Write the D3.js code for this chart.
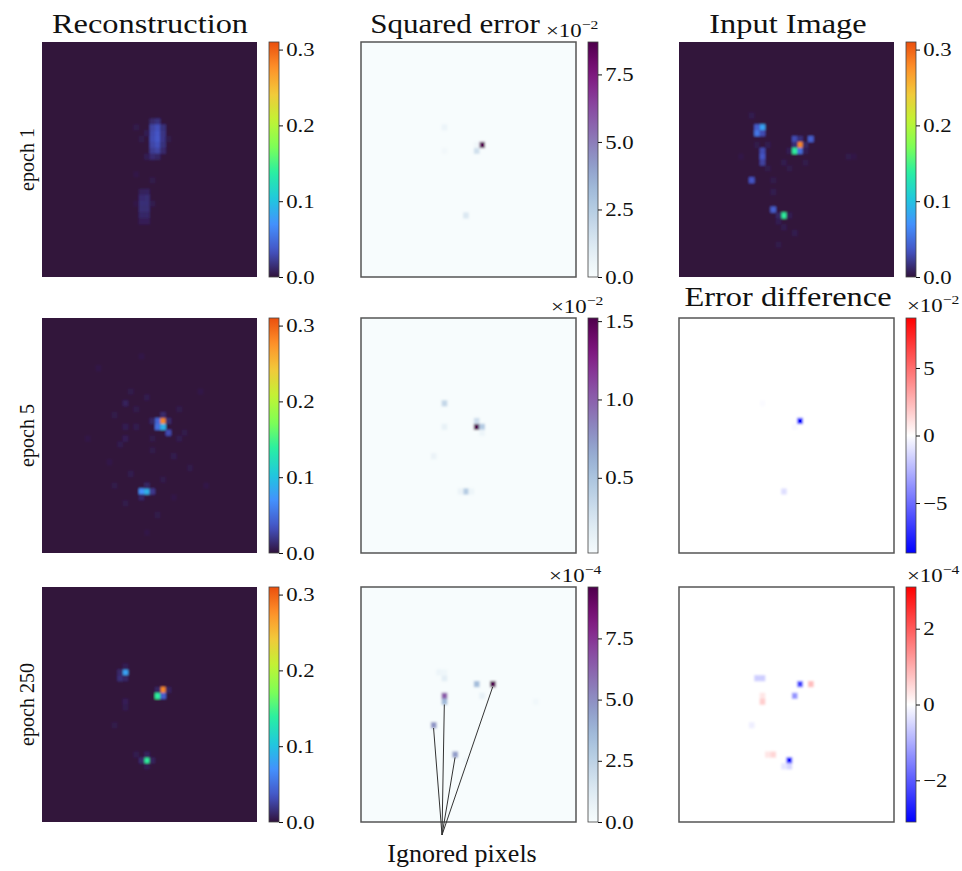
<!DOCTYPE html>
<html>
<head>
<meta charset="utf-8">
<script src="https://cdn.jsdelivr.net/npm/d3@7"></script>
<style>
  body { margin: 0; background: #fff; }
  svg { display: block; font-family: "Liberation Serif", "Times New Roman", serif; }
</style>
</head>
<body>
<svg id="chart" width="962" height="871"></svg>
<script>
const gridSize = 40;
const rowLabels = ["epoch 1", "epoch 5", "epoch 250"];
const columnTitles = ["Reconstruction", "Squared error", "Input Image"];
const diffTitle = "Error difference";
const annotationText = "Ignored pixels";

// turbo panels (reconstruction + input)
const intensityMax = 0.31;
const intensityTicks = [0, 0.1, 0.2, 0.3];

// squared error, values in units of 10^exp
const sqErrRange = [[0, 8.7], [0.02, 1.52], [0, 9.6]];
const sqErrTicks = [[0, 2.5, 5, 7.5], [0.5, 1.0, 1.5], [0, 2.5, 5, 7.5]];
const sqErrExp = ["−2", "−2", "−4"];

// error difference (epoch 5 and epoch 250)
const diffMax = [8.7, 3.1];
const diffTicks = [[-5, 0, 5], [-2, 0, 2]];
const diffExp = ["−2", "−4"];

// pixels: [col, row, value], everything else is 0
const inputImage = [
  [15, 14, 0.08], [14, 14, 0.04], [14, 15, 0.055], [15, 15, 0.03], [13, 12, 0.005],
  [21, 16, 0.03], [22, 16, 0.015], [24, 16, 0.04],
  [22, 17, 0.28], [21, 17, 0.015], [23, 17, 0.01],
  [21, 18, 0.14], [22, 18, 0.05], [20, 18, 0.006], [23, 18, 0.006],
  [15, 18, 0.03], [15, 19, 0.035], [15, 20, 0.025],
  [13, 23, 0.035], [17, 25, 0.005], [17, 28, 0.04],
  [19, 29, 0.14], [18, 29, 0.01], [20, 29, 0.006],
  [21, 32, 0.005], [18, 34, 0.004], [31, 19, 0.004], [32, 19, 0.003],
  [11, 19, 0.003], [16, 21, 0.004], [19, 20, 0.005], [20, 21, 0.004], [23, 20, 0.004],
  [18, 30, 0.006], [19, 31, 0.005], [17, 23, 0.004], [14, 17, 0.004], [16, 17, 0.005]
];

const reconEpoch1 = [
  [20, 13, 0.012], [21, 13, 0.016],
  [20, 14, 0.026], [21, 14, 0.032], [22, 14, 0.016],
  [20, 15, 0.029], [21, 15, 0.035], [22, 15, 0.018],
  [20, 16, 0.03], [21, 16, 0.036], [22, 16, 0.019],
  [20, 17, 0.027], [21, 17, 0.032], [22, 17, 0.016],
  [20, 18, 0.022], [21, 18, 0.026], [22, 18, 0.012],
  [19, 19, 0.006], [20, 19, 0.013], [21, 19, 0.01],
  [18, 25, 0.008], [19, 25, 0.009],
  [18, 26, 0.013], [19, 26, 0.014],
  [18, 27, 0.015], [19, 27, 0.015],
  [18, 28, 0.014], [19, 28, 0.014],
  [18, 29, 0.011], [19, 29, 0.011],
  [18, 30, 0.007], [19, 30, 0.007],
  [17, 14, 0.004], [18, 16, 0.004], [19, 15, 0.006], [23, 16, 0.004],
  [17, 22, 0.003], [20, 23, 0.004], [20, 27, 0.005], [17, 27, 0.003]
];

const reconEpoch5 = [
  [21, 17, 0.045], [22, 17, 0.28], [21, 18, 0.05], [22, 18, 0.09], [23, 19, 0.03],
  [23, 17, 0.012], [20, 17, 0.01], [22, 16, 0.012],
  [18, 29, 0.07], [19, 29, 0.09], [20, 29, 0.02], [18, 30, 0.01], [19, 28, 0.01],
  [15, 14, 0.008], [16, 12, 0.004], [19, 13, 0.005], [13, 16, 0.004], [17, 18, 0.005],
  [25, 15, 0.004], [26, 19, 0.004], [14, 21, 0.005], [20, 22, 0.004], [24, 23, 0.005],
  [12, 24, 0.003], [27, 25, 0.004], [16, 26, 0.005], [22, 27, 0.004], [15, 31, 0.004],
  [21, 33, 0.004], [24, 30, 0.003], [10, 8, 0.003], [18, 6, 0.003], [29, 12, 0.003],
  [8, 20, 0.003], [30, 28, 0.003], [19, 36, 0.003], [13, 28, 0.004], [25, 20, 0.005],
  [17, 15, 0.004], [20, 20, 0.004], [15, 20, 0.007], [15, 18, 0.006]
];

const reconEpoch250 = [
  [15, 14, 0.08], [14, 14, 0.012], [14, 15, 0.015], [15, 15, 0.01], [15, 13, 0.006],
  [22, 17, 0.28], [21, 18, 0.14], [22, 18, 0.04], [23, 17, 0.008], [21, 17, 0.01],
  [19, 29, 0.14], [18, 29, 0.012], [19, 28, 0.008], [20, 29, 0.008], [19, 30, 0.006],
  [15, 19, 0.007], [15, 20, 0.005], [13, 23, 0.004], [17, 28, 0.005]
];

const sqErrEpoch1 = [
  [22, 17, 8.6], [21, 18, 1.6], [19, 29, 1.2], [15, 14, 0.5], [15, 18, 0.25], [21, 17, 0.3]
];

const sqErrEpoch5 = [
  [21, 18, 1.52], [22, 18, 0.45], [21, 17, 0.3], [15, 14, 0.35], [19, 29, 0.45],
  [15, 18, 0.12], [13, 23, 0.1], [18, 29, 0.1], [20, 29, 0.08], [22, 19, 0.08]
];

const sqErrEpoch250 = [
  [24, 16, 9.5], [21, 16, 3.4], [15, 18, 6.5], [15, 19, 3.6], [15, 15, 1.0],
  [13, 23, 4.8], [17, 28, 4.6], [22, 18, 0.8], [32, 19, 0.3], [14, 14, 0.5],
  [15, 14, 0.4], [19, 29, 0.3]
];

const diffEpoch5 = [
  [22, 17, -8.5], [19, 29, -1.1], [15, 14, -0.15], [21, 18, -0.2]
];

const diffEpoch250 = [
  [22, 16, -2.3], [24, 16, 0.8], [21, 18, -1.3], [14, 15, -0.6], [15, 15, -0.6],
  [15, 18, 0.3], [15, 19, 0.6], [13, 23, -0.2], [16, 28, 0.3], [17, 28, 0.5],
  [20, 29, -3.05], [20, 30, -0.5], [19, 30, -0.3]
];

const ignoredPixels = [[13, 23], [15, 19], [17, 28], [24, 16]];

// matplotlib turbo key colours
const turboStops = ["#30123b", "#4454c4", "#4490fe", "#1fc8de", "#29efa2", "#7eff55",
  "#c1f334", "#f1ca3a", "#fe922a", "#ea4f0d", "#7a0403"];

// layout
const colX = [42, 361, 679];
const rowY = [42, 318, 587];
const imgW = 215, imgH = 235;
const cbGap = 12, cbW = 10;
const stretch = 1.2;
const serif = '"Liberation Serif", "Times New Roman", serif';

const svg = d3.select("#chart");
const defs = svg.append("defs");
defs.append("filter").attr("id", "soft")
  .attr("x", "-5%").attr("y", "-5%").attr("width", "110%").attr("height", "110%")
  .append("feGaussianBlur").attr("stdDeviation", 0.9);

const turboInterp = d3.piecewise(d3.interpolateRgb, turboStops);
const turbo = d3.scaleSequential(t => turboInterp(t * 0.9))
  .domain([0, intensityMax]).clamp(true);
const bwr = d3.piecewise(d3.interpolateRgb, ["#0000ff", "#ffffff", "#ff0000"]);

let uid = 0;

function heatmap(x0, y0, cells, color, framed) {
  const x = d3.scaleBand().domain(d3.range(gridSize)).range([x0, x0 + imgW]);
  const y = d3.scaleBand().domain(d3.range(gridSize)).range([y0, y0 + imgH]);
  const id = "clip" + (uid++);
  defs.append("clipPath").attr("id", id)
    .append("rect").attr("x", x0).attr("y", y0).attr("width", imgW).attr("height", imgH);
  const g = svg.append("g").attr("clip-path", `url(#${id})`)
    .append("g").attr("filter", "url(#soft)");
  g.append("rect")
    .attr("x", x0 - 8).attr("y", y0 - 8)
    .attr("width", imgW + 16).attr("height", imgH + 16)
    .attr("fill", color(0));
  g.selectAll("rect.px")
    .data(cells)
    .enter().append("rect")
    .attr("class", "px")
    .attr("x", d => x(d[0]))
    .attr("y", d => y(d[1]))
    .attr("width", x.bandwidth() + 0.3)
    .attr("height", y.bandwidth() + 0.3)
    .attr("fill", d => color(d[2]));
  if (framed) {
    svg.append("rect")
      .attr("x", x0).attr("y", y0).attr("width", imgW).attr("height", imgH)
      .attr("fill", "none").attr("stroke", "#555").attr("stroke-width", 1.5);
  }
  return { x, y };
}

function colorbar(x0, y0, color, lo, hi, ticks, fmt) {
  const cx = x0 + imgW + cbGap;
  const id = "grad" + (uid++);
  const grad = defs.append("linearGradient").attr("id", id)
    .attr("x1", 0).attr("y1", 1).attr("x2", 0).attr("y2", 0);
  d3.range(41).forEach(i => {
    grad.append("stop").attr("offset", i / 40).attr("stop-color", color(lo + (hi - lo) * i / 40));
  });
  svg.append("rect")
    .attr("x", cx).attr("y", y0).attr("width", cbW).attr("height", imgH)
    .attr("fill", `url(#${id})`).attr("stroke", "#444").attr("stroke-width", 0.8);
  const scale = d3.scaleLinear().domain([lo, hi]).range([y0 + imgH, y0]);
  const ax = svg.append("g")
    .attr("transform", `translate(${cx + cbW},0)`)
    .call(d3.axisRight(scale).tickValues(ticks).tickFormat(fmt).tickSize(4).tickPadding(2));
  ax.attr("font-family", null);
  ax.select(".domain").remove();
  ax.selectAll("line").attr("stroke", "#111");
  ax.selectAll("text")
    .style("font-family", serif)
    .style("font-size", "19px")
    .attr("fill", "#111")
    .attr("transform", `scale(${stretch},1)`);
}

function label(x, y, text, size, anchor, sx) {
  return svg.append("text")
    .attr("transform", `translate(${x},${y}) scale(${sx},1)`)
    .attr("text-anchor", anchor)
    .style("font-family", serif)
    .attr("font-size", size)
    .attr("fill", "#111")
    .text(text);
}

function offsetText(x, y, exp) {
  const t = svg.append("text")
    .attr("transform", `translate(${x},${y}) scale(${stretch},1)`)
    .style("font-family", serif)
    .attr("font-size", 19).attr("fill", "#111");
  t.append("tspan").text("×10");
  t.append("tspan").attr("font-size", 13).attr("dy", -8).text(exp);
}

// column 0: reconstructions
const recons = [reconEpoch1, reconEpoch5, reconEpoch250];
recons.forEach((cells, r) => {
  heatmap(colX[0], rowY[r], cells, turbo, false);
  colorbar(colX[0], rowY[r], turbo, 0, intensityMax, intensityTicks, d3.format(".1f"));
});

// column 1: squared error
const sqErrs = [sqErrEpoch1, sqErrEpoch5, sqErrEpoch250];
let annotScales = null;
sqErrs.forEach((cells, r) => {
  const [lo, hi] = sqErrRange[r];
  const c = d3.scaleSequential(d3.interpolateBuPu).domain([0, hi]).clamp(true);
  const s = heatmap(colX[1], rowY[r], cells, c, true);
  colorbar(colX[1], rowY[r], c, lo, hi, sqErrTicks[r], d3.format(".1f"));
  if (r === 2) annotScales = s;
});

// column 2: input image, then error differences
heatmap(colX[2], rowY[0], inputImage, turbo, false);
colorbar(colX[2], rowY[0], turbo, 0, intensityMax, intensityTicks, d3.format(".1f"));
[diffEpoch5, diffEpoch250].forEach((cells, i) => {
  const m = diffMax[i];
  const c = d3.scaleDiverging(bwr).domain([-m, 0, m]).clamp(true);
  heatmap(colX[2], rowY[i + 1], cells, c, true);
  colorbar(colX[2], rowY[i + 1], c, -m, m, diffTicks[i], d3.format("d"));
});

// titles
label(150, 33, columnTitles[0], 27, "middle", stretch);
label(455, 33, columnTitles[1], 27, "middle", 1.15);
label(788, 33, columnTitles[2], 27, "middle", stretch);
label(788, 306, diffTitle, 27, "middle", stretch);

// row labels
const rowCenters = rowY.map(y => y + imgH / 2);
rowLabels.forEach((t, i) => {
  svg.append("text")
    .attr("transform", `translate(34,${rowCenters[i]}) rotate(-90)`)
    .attr("text-anchor", "middle")
    .style("font-family", serif)
    .attr("font-size", 20)
    .attr("fill", "#111")
    .text(t);
});

// ×10^n offsets
offsetText(546, 37, sqErrExp[0]);
offsetText(551, 313, sqErrExp[1]);
offsetText(549, 582, sqErrExp[2]);
offsetText(907, 312, diffExp[0]);
offsetText(907, 582, diffExp[1]);

// ignored pixels annotation
const ax0 = 442, ay0 = 835;
svg.append("g").selectAll("line")
  .data(ignoredPixels)
  .enter().append("line")
  .attr("x1", ax0).attr("y1", ay0)
  .attr("x2", d => annotScales.x(d[0]) + annotScales.x.bandwidth() / 2)
  .attr("y2", d => annotScales.y(d[1]) + annotScales.y.bandwidth())
  .attr("stroke", "#333").attr("stroke-width", 1);
label(462, 862, annotationText, 26, "middle", 1);
</script>
</body>
</html>
